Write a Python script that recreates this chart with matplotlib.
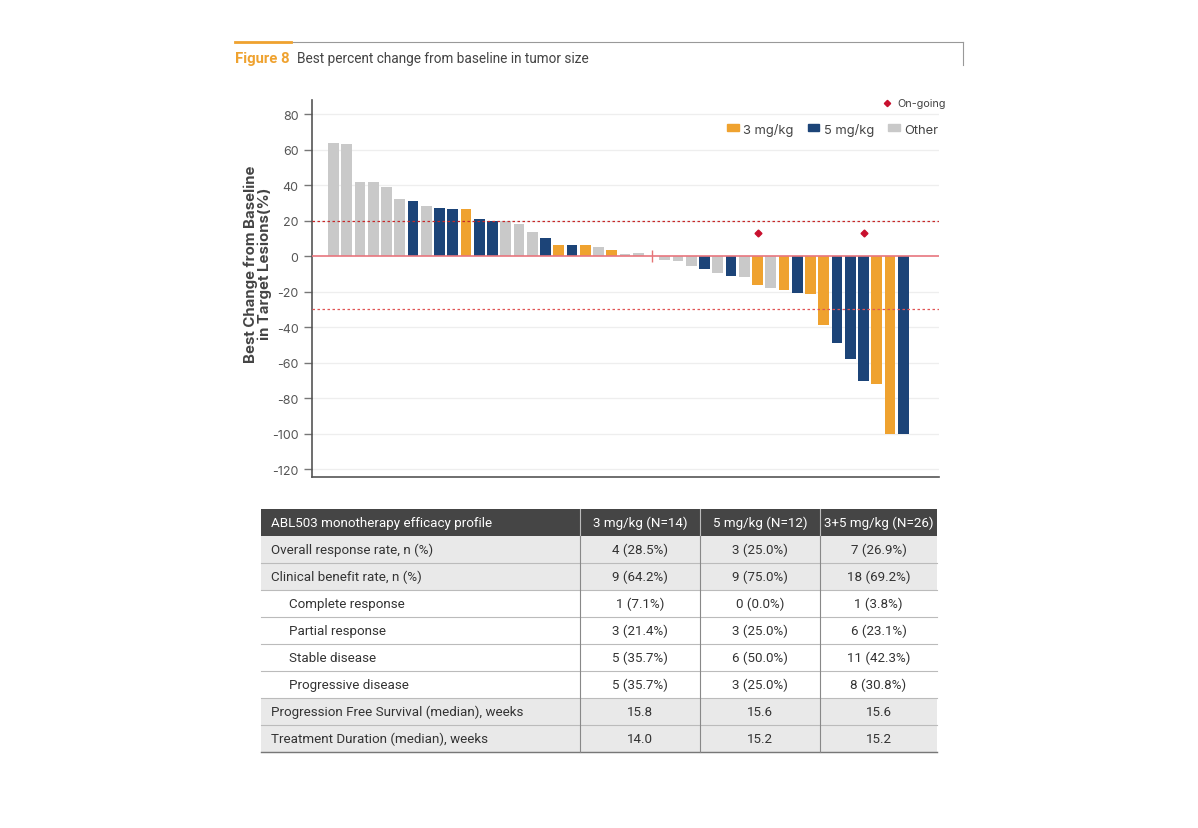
import matplotlib.pyplot as plt
from matplotlib.patches import Patch, Rectangle

plt.rcParams['axes.unicode_minus'] = False

# best % change per patient, sorted; the 0 slot in the middle is the divider mark
change = [64, 63, 41.5, 41.5, 39, 32, 31, 28.5, 27, 26.5, 26.5, 21, 20, 20, 18, 13.5,
          10, 6.5, 6.5, 6, 5, 3.5, 1, 1.5,
          0,
          -2, -3, -5.5, -7.5, -9.5, -11, -12, -16, -18, -19, -21, -21.5, -39, -49,
          -58, -70.5, -72, -100, -100]
group = ['Other', 'Other', 'Other', 'Other', 'Other', 'Other', '5 mg/kg', 'Other',
         '5 mg/kg', '5 mg/kg', '3 mg/kg', '5 mg/kg', '5 mg/kg', 'Other', 'Other',
         'Other', '5 mg/kg', '3 mg/kg', '5 mg/kg', '3 mg/kg', 'Other', '3 mg/kg',
         'Other', 'Other',
         'divider',
         'Other', 'Other', 'Other', '5 mg/kg', 'Other', '5 mg/kg', 'Other', '3 mg/kg',
         'Other', '3 mg/kg', '5 mg/kg', '3 mg/kg', '3 mg/kg', '5 mg/kg', '5 mg/kg',
         '5 mg/kg', '3 mg/kg', '3 mg/kg', '5 mg/kg']
ongoing = [32, 40]
ongoing_y = 13
yticks = [80, 60, 40, 20, 0, -20, -40, -60, -80, -100, -120]
ref_lines = [20, -30]

colors = {'3 mg/kg': '#EFA22F', '5 mg/kg': '#1C4478', 'Other': '#C9C9C9'}
red = '#C8102E'

# efficacy table
tbl_header = ['ABL503 monotherapy efficacy profile', '3 mg/kg (N=14)',
              '5 mg/kg (N=12)', '3+5 mg/kg (N=26)']
tbl_rows = ['Overall response rate, n (%)', 'Clinical benefit rate, n (%)',
            'Complete response', 'Partial response', 'Stable disease',
            'Progressive disease', 'Progression Free Survival (median), weeks',
            'Treatment Duration (median), weeks']
tbl_3mg = ['4 (28.5%)', '9 (64.2%)', '1 (7.1%)', '3 (21.4%)', '5 (35.7%)',
           '5 (35.7%)', '15.8', '14.0']
tbl_5mg = ['3 (25.0%)', '9 (75.0%)', '0 (0.0%)', '3 (25.0%)', '6 (50.0%)',
           '3 (25.0%)', '15.6', '15.2']
tbl_all = ['7 (26.9%)', '18 (69.2%)', '1 (3.8%)', '6 (23.1%)', '11 (42.3%)',
           '8 (30.8%)', '15.6', '15.2']
indented = [2, 3, 4, 5]
shaded = [0, 1, 6, 7]

W, H = 1198, 829
fig = plt.figure(figsize=(W / 100, H / 100), dpi=100)
narrow = ['Roboto', 'DejaVu Sans']
geo = ['Inter', 'DejaVu Sans']

ax = fig.add_axes([311.7 / W, 1 - 478 / H, (938.5 - 311.7) / W, (478 - 101) / H])
x = list(range(len(change)))
for i in x:
    if group[i] == 'divider':
        ax.plot([i], [0], marker='|', ms=9, color='#E57373', zorder=4)
        continue
    ax.bar(i, change[i], width=0.82, color=colors[group[i]], zorder=3)

for i in ongoing:
    ax.plot([i], [ongoing_y], marker='D', ms=3.5, color=red, ls='none', zorder=4)

for t in yticks:
    if t != 0:
        ax.axhline(t, color='#EEEEEE', lw=0.9, zorder=1)
ax.axhline(0, color='#E8767E', lw=1.2, zorder=4)
ax.axhline(ref_lines[0], color='#C62828', lw=0.9, ls=(0, (2, 2)), zorder=5)
ax.axhline(ref_lines[1], color='#E05555', lw=0.9, ls=(0, (2, 2)), zorder=5)

ax.set_xlim(-1.65, 45.66)
ax.set_ylim(-124.5, 88)
ax.set_yticks(yticks)
ax.set_xticks([])
for s in ['top', 'right']:
    ax.spines[s].set_visible(False)
for s in ['left', 'bottom']:
    ax.spines[s].set_color('#555555')
    ax.spines[s].set_linewidth(1.2)
ax.tick_params(axis='y', length=6, width=1, color='#777777', labelcolor='#555555',
               labelsize=9)
for lab in ax.get_yticklabels():
    lab.set_family(geo)
ax.set_ylabel('Best Change from Baseline\nin Target Lesions(%)', fontsize=10.8,
              fontweight='bold', color='#444444', family=geo, linespacing=0.95)
ax.yaxis.set_label_coords(-0.063, 0.567)

handles = [Patch(color=colors[k], label=k) for k in ['3 mg/kg', '5 mg/kg', 'Other']]
leg = ax.legend(handles=handles, loc='center right', bbox_to_anchor=(1.0, 0.923),
                ncol=3, frameon=False, handlelength=0.9, handleheight=0.45,
                handletextpad=0.35, columnspacing=1.1, borderpad=0, borderaxespad=0,
                prop={'family': geo, 'size': 9.3})
for t in leg.get_texts():
    t.set_color('#444444')
ax.plot([0.918], [0.992], marker='D', ms=3.2, color=red, transform=ax.transAxes,
        clip_on=False)
ax.text(0.934, 0.992, 'On-going', transform=ax.transAxes, va='center', ha='left',
        fontsize=7.8, color='#444444', family=geo)

# overlay in pixel coordinates for title frame and table
ov = fig.add_axes([0, 0, 1, 1])
ov.set_xlim(0, W)
ov.set_ylim(H, 0)
ov.axis('off')
ov.plot([235, 963], [43, 43], color='#999999', lw=0.8)
ov.plot([963, 963], [43, 66], color='#999999', lw=0.8)
ov.plot([235, 291], [43, 43], color='#EFA22F', lw=2)
ov.text(235, 59, 'Figure 8', fontsize=10.7, fontweight='bold', color='#EFA22F',
        va='center', ha='left', family=narrow)
ov.text(297, 59, 'Best percent change from baseline in tumor size', fontsize=9.8,
        color='#444444', va='center', ha='left', family=narrow)

col_x = [261, 580, 700, 820, 937]
top, rh = 510, 27.0
ov.add_patch(Rectangle((col_x[0], top), col_x[-1] - col_x[0], rh, color='#454545', lw=0))
for j, h in enumerate(tbl_header):
    if j == 0:
        ov.text(col_x[0] + 10, top + rh / 2, h, color='white', fontsize=9.6,
                va='center', ha='left', family=narrow)
    else:
        ov.text((col_x[j] + col_x[j + 1]) / 2, top + rh / 2, h, color='white',
                fontsize=9.6, va='center', ha='center', family=narrow)
for i, name in enumerate(tbl_rows):
    y0 = top + rh * (i + 1)
    if i in shaded:
        ov.add_patch(Rectangle((col_x[0], y0), col_x[-1] - col_x[0], rh,
                               color='#E9E9E9', lw=0))
    ov.plot([col_x[0], col_x[-1]], [y0 + rh, y0 + rh], color='#BBBBBB', lw=0.8)
    indent = 28 if i in indented else 10
    ov.text(col_x[0] + indent, y0 + rh / 2, name, fontsize=9.6, color='#333333',
            va='center', ha='left', family=narrow)
    for j, vals in enumerate([tbl_3mg, tbl_5mg, tbl_all]):
        ov.text((col_x[j + 1] + col_x[j + 2]) / 2, y0 + rh / 2, vals[i], fontsize=9.6,
                color='#333333', va='center', ha='center', family=narrow)
bottom = top + rh * (len(tbl_rows) + 1)
ov.plot([col_x[0], col_x[-1]], [bottom, bottom], color='#777777', lw=1)
for cx in col_x[1:-1]:
    ov.plot([cx, cx], [top, top + rh], color='#BBBBBB', lw=0.8)
    ov.plot([cx, cx], [top + rh, bottom], color='#888888', lw=0.8)

fig.savefig('out.png', dpi=100)
